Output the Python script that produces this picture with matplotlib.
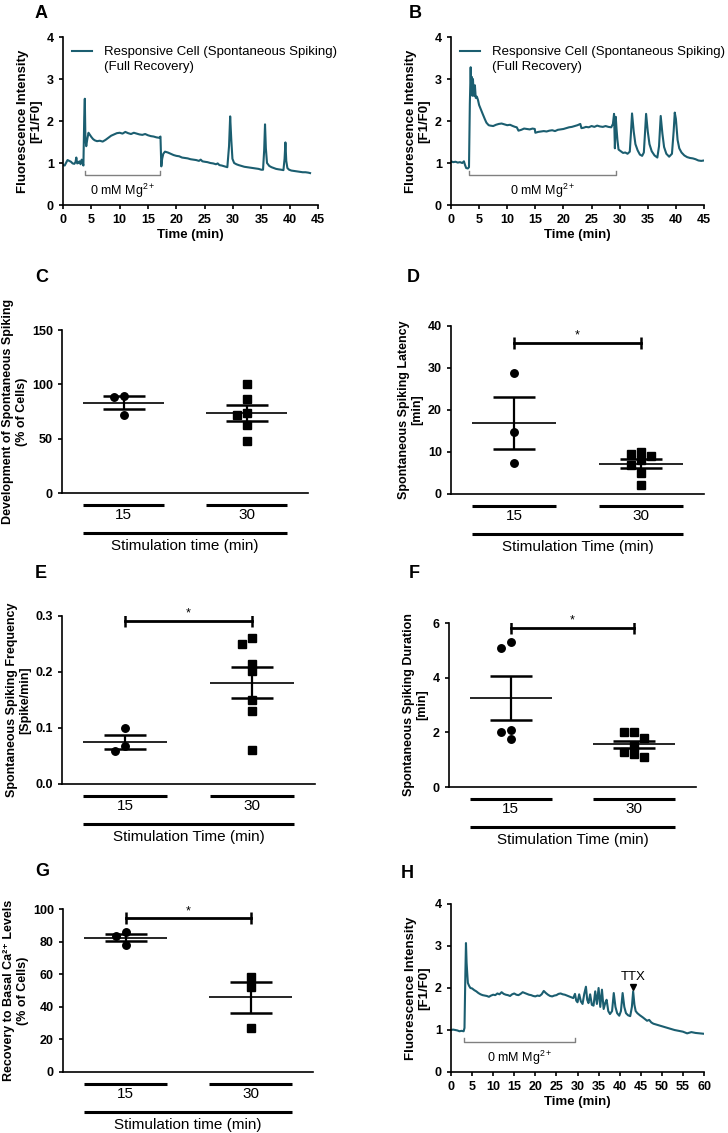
import matplotlib
matplotlib.use('Agg')
import matplotlib.pyplot as plt
import matplotlib.transforms as mtransforms
from matplotlib.lines import Line2D
from matplotlib.ticker import FormatStrFormatter
import numpy as np

plt.rcParams['font.family'] = ['Liberation Sans', 'DejaVu Sans']
plt.rcParams['mathtext.fontset'] = 'custom'
plt.rcParams['mathtext.rm'] = 'Liberation Sans'
plt.rcParams['mathtext.it'] = 'Liberation Sans:italic'
plt.rcParams['mathtext.bf'] = 'Liberation Sans:bold'

TRACE = '#1b5e70'

# ---- calcium traces (time in min, F1/F0) ----
trace_a = [(0, 0.95), (0.3, 0.94), (0.6, 1.02), (0.8, 1.07), (1.1, 1.05), (1.4, 1.03), (1.7, 0.99),
           (2.0, 0.98), (2.2, 1.02), (2.35, 1.13), (2.5, 0.99), (2.7, 1.00), (2.9, 1.04), (3.1, 0.97),
           (3.3, 1.08), (3.45, 1.01), (3.6, 0.94), (3.75, 2.10), (3.85, 2.53), (3.95, 1.60), (4.1, 1.40),
           (4.3, 1.58), (4.5, 1.72), (4.7, 1.68), (5.0, 1.62), (5.3, 1.57), (5.6, 1.54), (6.0, 1.52),
           (6.5, 1.53), (7.0, 1.51), (7.5, 1.55), (8.0, 1.60), (8.5, 1.65), (9.0, 1.68), (9.5, 1.71),
           (10.0, 1.72), (10.5, 1.70), (11.0, 1.74), (11.5, 1.71), (12.0, 1.69), (12.5, 1.72), (13.0, 1.70),
           (13.5, 1.68), (14.0, 1.67), (14.5, 1.69), (15.0, 1.66), (15.5, 1.64), (16.0, 1.63), (16.5, 1.61),
           (17.0, 1.60), (17.2, 1.63), (17.35, 0.92), (17.5, 1.10), (17.7, 1.22), (18.0, 1.27), (18.5, 1.25),
           (19.0, 1.22), (19.5, 1.19), (20.0, 1.17), (20.5, 1.16), (21.0, 1.13), (21.5, 1.12), (22.0, 1.11),
           (22.5, 1.09), (23.0, 1.08), (23.5, 1.07), (24.0, 1.05), (24.3, 1.08), (24.6, 1.04), (25.0, 1.03),
           (25.5, 1.02), (26.0, 1.00), (26.5, 0.99), (27.0, 0.97), (27.3, 0.99), (27.6, 0.95), (28.0, 0.94),
           (28.5, 0.92), (29.0, 0.90), (29.3, 1.40), (29.5, 2.11), (29.7, 1.55), (29.9, 1.10), (30.2, 1.00),
           (30.6, 0.97), (31.0, 0.95), (31.5, 0.93), (32.0, 0.91), (32.5, 0.90), (33.0, 0.89), (33.5, 0.88),
           (34.0, 0.87), (34.5, 0.86), (35.0, 0.84), (35.3, 0.84), (35.5, 1.30), (35.65, 1.92), (35.8, 1.35),
           (36.0, 1.00), (36.4, 0.93), (36.8, 0.90), (37.2, 0.88), (37.6, 0.86), (38.0, 0.85), (38.5, 0.84),
           (38.9, 0.83), (39.1, 1.10), (39.25, 1.49), (39.4, 1.05), (39.6, 0.88), (39.9, 0.84), (40.3, 0.82),
           (40.8, 0.81), (41.3, 0.80), (41.8, 0.79), (42.3, 0.78), (42.8, 0.78), (43.3, 0.77), (43.6, 0.76)]

trace_b = [(0, 1.04), (0.4, 1.02), (0.8, 1.03), (1.2, 1.01), (1.6, 1.02), (2.0, 1.00), (2.3, 1.04),
           (2.5, 0.95), (2.7, 0.88), (3.0, 0.87), (3.2, 0.90), (3.35, 2.40), (3.5, 3.28), (3.6, 2.70),
           (3.7, 3.05), (3.8, 2.60), (3.9, 3.00), (4.0, 2.75), (4.1, 2.60), (4.25, 2.85), (4.4, 2.55),
           (4.6, 2.58), (4.8, 2.50), (5.0, 2.38), (5.3, 2.28), (5.6, 2.18), (6.0, 2.05), (6.3, 1.96),
           (6.7, 1.90), (7.0, 1.89), (7.5, 1.88), (8.0, 1.91), (8.5, 1.93), (9.0, 1.94), (9.5, 1.92),
           (10.0, 1.90), (10.5, 1.91), (11.0, 1.88), (11.4, 1.86), (11.7, 1.85), (12.0, 1.77), (12.5, 1.79),
           (13.0, 1.82), (13.5, 1.81), (14.0, 1.80), (14.5, 1.82), (14.9, 1.81), (15.0, 1.72), (15.5, 1.74),
           (16.0, 1.75), (16.5, 1.76), (17.0, 1.75), (17.5, 1.77), (18.0, 1.78), (18.5, 1.76), (19.0, 1.79),
           (19.5, 1.80), (20.0, 1.81), (20.5, 1.83), (21.0, 1.85), (21.5, 1.86), (22.0, 1.88), (22.5, 1.90),
           (23.0, 1.93), (23.2, 1.83), (23.6, 1.84), (24.0, 1.86), (24.5, 1.85), (25.0, 1.88), (25.5, 1.86),
           (26.0, 1.89), (26.5, 1.87), (27.0, 1.86), (27.5, 1.88), (28.0, 1.86), (28.5, 1.85), (28.8, 1.93),
           (29.0, 2.17), (29.15, 1.35), (29.3, 2.10), (29.45, 1.80), (29.6, 1.55), (29.8, 1.32), (30.2, 1.28),
           (30.6, 1.24), (31.0, 1.25), (31.4, 1.22), (31.8, 1.27), (32.0, 1.70), (32.2, 2.18), (32.5, 1.75),
           (32.8, 1.45), (33.2, 1.30), (33.6, 1.20), (34.0, 1.17), (34.3, 1.25), (34.5, 1.70), (34.7, 2.17),
           (35.0, 1.75), (35.3, 1.45), (35.7, 1.28), (36.2, 1.18), (36.7, 1.13), (37.0, 1.40), (37.3, 2.12),
           (37.6, 1.70), (37.9, 1.38), (38.3, 1.22), (38.8, 1.15), (39.3, 1.22), (39.6, 1.75), (39.8, 2.20),
           (40.0, 2.05), (40.3, 1.55), (40.6, 1.35), (41.0, 1.25), (41.5, 1.18), (42.0, 1.14), (42.5, 1.12),
           (43.0, 1.11), (43.5, 1.09), (44.0, 1.06), (44.5, 1.05), (45.0, 1.06)]

trace_h = [(0, 1.00), (0.5, 1.01), (1.0, 1.00), (1.5, 0.99), (2.0, 0.97), (2.5, 0.98), (3.0, 0.97),
           (3.2, 1.05), (3.4, 2.30), (3.55, 3.07), (3.7, 2.60), (3.85, 2.35), (4.0, 2.12), (4.3, 2.05),
           (4.6, 2.00), (5.0, 1.99), (5.5, 1.95), (6.0, 1.92), (6.5, 1.88), (7.0, 1.85), (7.5, 1.83),
           (8.0, 1.82), (8.5, 1.81), (9.0, 1.79), (9.5, 1.82), (10.0, 1.84), (10.5, 1.83), (11.0, 1.87),
           (11.5, 1.85), (12.0, 1.90), (12.5, 1.86), (13.0, 1.84), (13.5, 1.83), (14.0, 1.81), (14.5, 1.85),
           (15.0, 1.87), (15.5, 1.84), (16.0, 1.83), (16.5, 1.86), (17.0, 1.90), (17.5, 1.88), (18.0, 1.86),
           (18.5, 1.84), (19.0, 1.83), (19.5, 1.81), (20.0, 1.80), (20.5, 1.82), (21.0, 1.81), (21.5, 1.85),
           (22.0, 1.93), (22.5, 1.88), (23.0, 1.84), (23.5, 1.81), (24.0, 1.80), (24.5, 1.82), (25.0, 1.83),
           (25.5, 1.86), (26.0, 1.87), (26.5, 1.85), (27.0, 1.84), (27.5, 1.82), (28.0, 1.80), (28.5, 1.78),
           (29.0, 1.76), (29.4, 1.86), (29.7, 1.70), (30.0, 1.66), (30.4, 1.85), (30.8, 1.68), (31.2, 1.62),
           (31.6, 1.86), (32.0, 2.03), (32.3, 1.72), (32.6, 1.64), (33.0, 1.85), (33.4, 1.60), (33.8, 1.58),
           (34.2, 1.92), (34.6, 1.62), (35.0, 2.00), (35.4, 1.55), (35.8, 1.96), (36.2, 1.50), (36.6, 1.65),
           (36.9, 1.72), (37.3, 1.45), (37.7, 1.38), (38.2, 1.45), (38.6, 1.88), (39.0, 1.55), (39.4, 1.40),
           (39.9, 1.34), (40.3, 1.45), (40.7, 1.88), (41.1, 1.55), (41.5, 1.40), (42.0, 1.35), (42.5, 1.33),
           (42.9, 1.55), (43.2, 1.92), (43.5, 1.60), (43.8, 1.45), (44.2, 1.40), (44.8, 1.35), (45.5, 1.30),
           (46.0, 1.26), (46.5, 1.22), (47.0, 1.24), (47.5, 1.18), (48.0, 1.15), (49.0, 1.12), (50.0, 1.09),
           (51.0, 1.06), (52.0, 1.03), (53.0, 1.00), (54.0, 0.98), (55.0, 0.96), (56.0, 0.92), (57.0, 0.95),
           (58.0, 0.93), (59.0, 0.92), (60.0, 0.91)]

# 0 mM Mg2+ application windows (min) and TTX time
mg_a = (3.8, 17.1)
mg_b = (3.25, 29.3)
mg_h = (3.2, 29.3)
ttx_time = 43.2

# ---- per-cell / per-experiment values ----
groups = ['15', '30']
c_15 = [89.7, 87.9, 71.6]
c_30 = [100.0, 86.9, 71.9, 73.2, 62.4, 47.8]
d_15 = [28.7, 14.7, 7.3]
d_30 = [9.5, 8.1, 9.0, 10.1, 6.8, 5.0, 2.2]
e_15 = [0.100, 0.059, 0.067]
e_30 = [0.250, 0.261, 0.2145, 0.201, 0.150, 0.130, 0.0606]
f_15 = [5.3, 5.1, 2.1, 2.0, 1.77]
f_30 = [2.0, 2.0, 1.8, 1.51, 1.29, 1.2, 1.1]
g_15 = [85.6, 83.4, 78.2]
g_30 = [58.3, 52.0, 26.9]
# height of the significance bar (*)
sig_d = 35.9
sig_e = 0.291
sig_f = 5.83
sig_g = 94.2

fig = plt.figure(figsize=(7.28, 11.33), dpi=100)
W, H = 728.0, 1133.0


def add_ax(l, t, r, b):
    return fig.add_axes([l / W, 1 - b / H, (r - l) / W, (b - t) / H])


def style(ax):
    for s in ['top', 'right']:
        ax.spines[s].set_visible(False)
    for s in ['left', 'bottom']:
        ax.spines[s].set_linewidth(1.2)
    ax.tick_params(direction='out', length=3, width=1.2, labelsize=9)


def bold_ticks(ax):
    for lbl in ax.get_xticklabels() + ax.get_yticklabels():
        lbl.set_fontweight('bold')


def below(ax, px):
    return ax.get_xaxis_transform() + mtransforms.ScaledTranslation(0, -px / 100.0, fig.dpi_scale_trans)


def trace_panel(ax, trace, xmax, window, legend=True):
    t, f = zip(*trace)
    line, = ax.plot(t, f, color=TRACE, lw=1.5)
    ax.set_xlim(0, xmax)
    ax.set_ylim(0, 4)
    ax.set_xticks(np.arange(0, xmax + 1, 5))
    ax.set_yticks([0, 1, 2, 3, 4])
    style(ax)
    bold_ticks(ax)
    ax.set_xlabel('Time (min)', fontweight='bold', fontsize=9.5, labelpad=2)
    ax.set_ylabel('Fluorescence Intensity\n[F1/F0]', fontweight='bold', fontsize=9.5, labelpad=3)
    x0, x1 = window
    ax.plot([x0, x0, x1, x1], [0.8, 0.72, 0.72, 0.8], color='#808080', lw=1.0)
    ax.text((x0 + x1) / 2, 0.33, '0 mM Mg$^{2+}$', ha='center', va='center', fontsize=9)
    if legend:
        blank = Line2D([], [], alpha=0)
        ax.legend([line, blank], ['Responsive Cell (Spontaneous Spiking)', '(Full Recovery)'],
                  loc='upper left', bbox_to_anchor=(0.0, 1.0), frameon=False, fontsize=9.5,
                  handlelength=1.5, handletextpad=0.9, borderaxespad=0.3, labelspacing=0.15)


def swarm(ax, vals, step_px=10, size_px=7):
    bb = ax.get_window_extent()
    y0, y1 = ax.get_ylim()
    x0, x1 = ax.get_xlim()
    ppy = bb.height / (y1 - y0)
    ppx = bb.width / (x1 - x0)
    placed = []
    offs = np.zeros(len(vals))
    for i in np.argsort(vals)[::-1]:
        for k in [0, -1, 1, -2, 2, -3, 3]:
            if all(not (kk == k and abs(vals[i] - vals[j]) * ppy < size_px) for j, kk in placed):
                break
        placed.append((i, k))
        offs[i] = k * step_px / ppx
    return offs


def dot_panel(ax, data, ylim, yticks, ylabel, xlabel, sig=None, fmt=None):
    pos = np.arange(1, len(data) + 1)
    ax.set_xlim(0.5, len(data) + 0.5)
    ax.set_ylim(*ylim)
    ax.set_yticks(yticks)
    if fmt:
        ax.yaxis.set_major_formatter(FormatStrFormatter(fmt))
    style(ax)
    ax.set_xticks(pos, groups)
    ax.tick_params(axis='x', length=0, pad=11, labelsize=11)
    for lbl in ax.get_yticklabels():
        lbl.set_fontweight('bold')
    for p, vals, m in zip(pos, data, ['o', 's']):
        vals = np.asarray(vals, float)
        dx = swarm(ax, vals)
        ax.plot(p + dx, vals, ls='none', marker=m, ms=5.4 if m == 'o' else 5.2, color='k', clip_on=False)
        mean = vals.mean()
        sem = vals.std(ddof=1) / np.sqrt(len(vals))
        ax.hlines(mean, p - 0.333, p + 0.333, color='k', lw=1.2)
        ax.errorbar(p, mean, yerr=sem, fmt='none', ecolor='k', elinewidth=1.6, capsize=15, capthick=1.8)
        # group underline
        ax.plot([p - 0.333, p + 0.333], [0, 0], transform=below(ax, 12), color='k', lw=2.2,
                clip_on=False, solid_capstyle='butt')
    ax.plot([pos[0] - 0.333, pos[-1] + 0.333], [0, 0], transform=below(ax, 40), color='k', lw=2.2,
            clip_on=False, solid_capstyle='butt')
    ax.text(pos.mean(), 0, xlabel, transform=below(ax, 53), ha='center', va='center', fontsize=11)
    ax.set_ylabel(ylabel, fontweight='bold', fontsize=9, labelpad=3)
    if sig is not None:
        ax.plot(pos, [sig, sig], color='k', lw=2.0, marker='|', ms=8, mew=1.8)
        ax.annotate('*', (pos.mean(), sig), xytext=(0, 1), textcoords='offset points',
                    ha='center', va='bottom', fontsize=9)


# A
ax_a = add_ax(63, 37, 318, 205)
trace_panel(ax_a, trace_a, 45, mg_a)

# B
ax_b = add_ax(451, 37, 704, 205)
trace_panel(ax_b, trace_b, 45, mg_b)

# C
ax_c = add_ax(62, 330, 308, 493)
dot_panel(ax_c, [c_15, c_30], (0, 150), [0, 50, 100, 150],
          'Development of Spontaneous Spiking\n(% of Cells)', 'Stimulation time (min)')

# D
ax_d = add_ax(451, 326, 704, 494)
dot_panel(ax_d, [d_15, d_30], (0, 40), [0, 10, 20, 30, 40],
          'Spontaneous Spiking Latency\n[min]', 'Stimulation Time (min)', sig=sig_d)

# E
ax_e = add_ax(62, 616, 315, 784)
dot_panel(ax_e, [e_15, e_30], (0, 0.3), [0, 0.1, 0.2, 0.3],
          'Spontaneous Spiking Frequency\n[Spike/min]', 'Stimulation Time (min)', sig=sig_e, fmt='%.1f')

# F
ax_f = add_ax(449, 623, 696, 787)
dot_panel(ax_f, [f_15, f_30], (0, 6), [0, 2, 4, 6],
          'Spontaneous Spiking Duration\n[min]', 'Stimulation Time (min)', sig=sig_f)

# G
ax_g = add_ax(63, 909, 313, 1072)
dot_panel(ax_g, [g_15, g_30], (0, 100), [0, 20, 40, 60, 80, 100],
          'Recovery to Basal Ca\u00b2\u207a Levels\n(% of Cells)', 'Stimulation time (min)', sig=sig_g)
ax_g.yaxis.label.set_family(['Liberation Sans', 'DejaVu Sans'])

# H
ax_h = add_ax(451, 904, 704, 1072)
trace_panel(ax_h, trace_h, 60, mg_h, legend=False)
ax_h.plot([ttx_time], [2.03], marker='v', ms=5, color='k', ls='none')
ax_h.text(ttx_time, 2.25, 'TTX', ha='center', va='center', fontsize=9.5)

# panel letters
for letter, x, y in [('A', 35, 13), ('B', 409, 13), ('C', 35, 277), ('D', 407, 277),
                     ('E', 35, 573), ('F', 409, 573), ('G', 35, 872), ('H', 401, 873)]:
    fig.text(x / W, 1 - y / H, letter, fontsize=13, fontweight='bold', ha='left', va='center')

fig.savefig('out.png', dpi=100)
